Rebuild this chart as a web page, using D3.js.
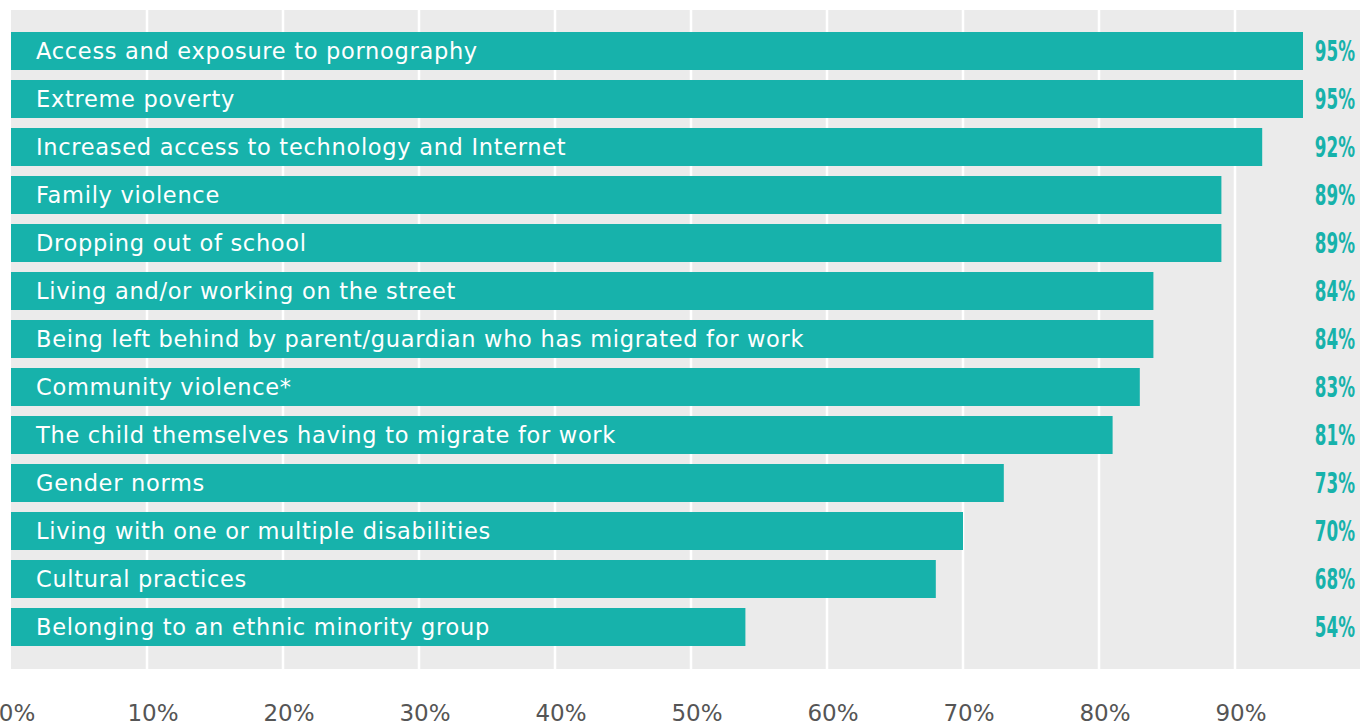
<!DOCTYPE html>
<html>
<head>
<meta charset="utf-8">
<script src="https://cdn.jsdelivr.net/npm/d3@7"></script>
<style>
  body { margin: 0; background: #fff; }
  svg { display: block; }
</style>
</head>
<body>
<div id="chart"></div>
<script>
// chart data
var categories = [
  "Access and exposure to pornography",
  "Extreme poverty",
  "Increased access to technology and Internet",
  "Family violence",
  "Dropping out of school",
  "Living and/or working on the street",
  "Being left behind by parent/guardian who has migrated for work",
  "Community violence*",
  "The child themselves having to migrate for work",
  "Gender norms",
  "Living with one or multiple disabilities",
  "Cultural practices",
  "Belonging to an ethnic minority group"
];
var values = [95, 95, 92, 89, 89, 84, 84, 83, 81, 73, 70, 68, 54];
var tickValues = [0, 10, 20, 30, 40, 50, 60, 70, 80, 90];

var W = 1360, H = 728;
var plot = {left: 11, right: 1360, top: 10, bottom: 669};

var svg = d3.select("#chart").append("svg")
    .attr("width", W)
    .attr("height", H);

// 0..100% spans 1360px starting at the left edge of the plot
var x = d3.scaleLinear().domain([0, 100]).range([plot.left, plot.left + 1360]);
var y = d3.scaleBand()
    .domain(categories)
    .range([27, 27 + 48 * categories.length])
    .paddingInner(10 / 48)
    .paddingOuter(5 / 48);

// background panel
svg.append("rect")
    .attr("x", plot.left)
    .attr("y", plot.top)
    .attr("width", plot.right - plot.left)
    .attr("height", plot.bottom - plot.top)
    .style("fill", "#ebebeb");

// gridlines
svg.selectAll(".grid")
    .data(tickValues.filter(function(d) { return d > 0; }))
    .enter().append("line")
    .attr("class", "grid")
    .attr("x1", function(d) { return x(d); })
    .attr("x2", function(d) { return x(d); })
    .attr("y1", plot.top)
    .attr("y2", plot.bottom)
    .style("stroke", "#fff")
    .style("stroke-width", 2.5);

// bars
svg.selectAll(".bar")
    .data(values)
    .enter().append("rect")
    .attr("class", "bar")
    .attr("x", x(0))
    .attr("y", function(d, i) { return y(categories[i]); })
    .attr("width", function(d) { return x(d) - x(0); })
    .attr("height", y.bandwidth())
    .style("fill", "#17b2ab");

// category labels inside bars
svg.selectAll(".cat")
    .data(categories)
    .enter().append("text")
    .attr("class", "cat")
    .attr("x", 36)
    .attr("y", function(d) { return y(d) + y.bandwidth() / 2; })
    .attr("dy", "0.36em")
    .style("fill", "#fff")
    .style("font-family", "'DejaVu Sans', sans-serif")
    .style("font-size", "22.5px")
    .style("letter-spacing", "0.7px")
    .text(function(d) { return d; });

// value labels, squeezed to look condensed
svg.selectAll(".val")
    .data(values)
    .enter().append("text")
    .attr("class", "val")
    .attr("transform", function(d, i) {
        return "translate(1355," + (y(categories[i]) + y.bandwidth() / 2) + ") scale(0.6,1)";
    })
    .attr("dy", "0.36em")
    .style("text-anchor", "end")
    .style("fill", "#17b2ab")
    .style("font-family", "'DejaVu Sans', sans-serif")
    .style("font-weight", "bold")
    .style("font-size", "28px")
    .text(function(d) { return d + "%"; });

// x axis labels
svg.selectAll(".tick-label")
    .data(tickValues)
    .enter().append("text")
    .attr("class", "tick-label")
    .attr("x", function(d) { return x(d) + 6; })
    .attr("y", 721)
    .style("text-anchor", "middle")
    .style("fill", "#555")
    .style("font-family", "'DejaVu Sans', sans-serif")
    .style("font-size", "23px")
    .text(function(d) { return d + "%"; });
</script>
</body>
</html>
